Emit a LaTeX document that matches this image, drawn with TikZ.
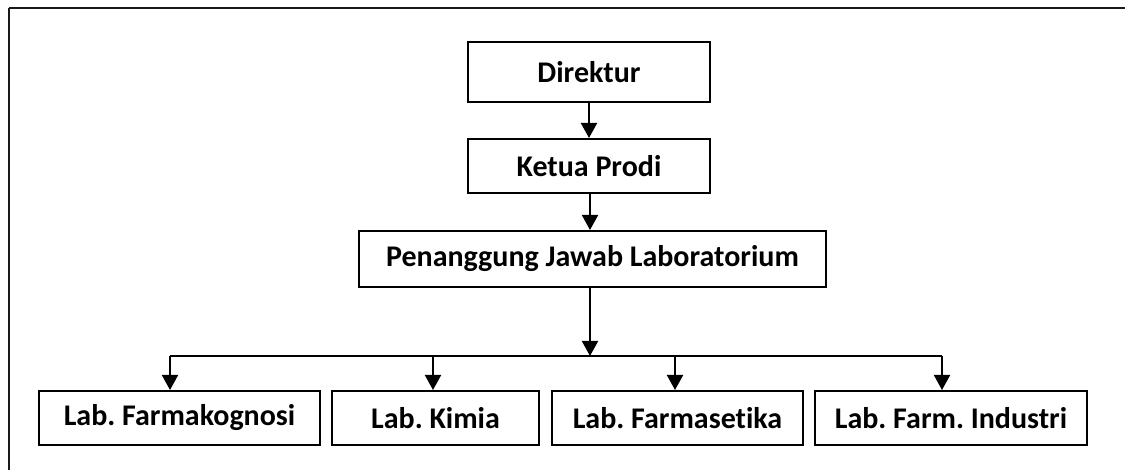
\documentclass[tikz,border=0pt]{standalone}
\usepackage{fontspec}
\setmainfont[Ligatures=NoCommon]{Carlito}
\frenchspacing
\usetikzlibrary{arrows.meta}
\begin{document}
\begin{tikzpicture}[x=1pt,y=-1pt,
  box/.style={draw=black,line width=2pt,inner sep=0pt,minimum height=54pt,
    font=\fontsize{30}{36}\selectfont\bfseries},
  arr/.style={line width=2pt,-{Triangle[length=15pt,width=16pt]}},
  conn/.style={line width=2pt}]
\useasboundingbox (0,0) rectangle (1125,470);
\draw[line width=2pt,black!90] (9,8) -- (1130,8);
\draw[line width=2pt,black!90] (9,8) -- (9,475);
\node[box,minimum width=242pt,minimum height=60pt] (dir) at (589,72) {Direktur};
\node[box,minimum width=242pt] (ketua) at (589,166) {Ketua Prodi};
\node[box,minimum width=467pt,minimum height=56pt] (pj) at (592.5,259) {Penanggung Jawab Laboratorium};
\node[box,minimum width=281pt] (lab1) at (179.5,418) {Lab. Farmakognosi};
\node[box,minimum width=207pt] (lab2) at (435.5,418) {Lab. Kimia};
\node[box,minimum width=251pt] (lab3) at (677.5,418) {Lab. Farmasetika};
\node[box,minimum width=272pt] (lab4) at (951,418) {Lab. Farm. Industri};
\coordinate (bus) at (590,356);
\coordinate (b1) at (170,356);
\coordinate (b2) at (433,356);
\coordinate (b3) at (675,356);
\coordinate (b4) at (942,356);
\draw[arr] (dir) -- (ketua);
\draw[arr] (ketua.south -| bus) -- (pj.north -| bus);
\draw[arr] (pj.south -| bus) -- (bus);
\draw[conn] (b1) -- (b4);
\draw[arr] (b1) -- (b1 |- lab1.north);
\draw[arr] (b2) -- (b2 |- lab2.north);
\draw[arr] (b3) -- (b3 |- lab3.north);
\draw[arr] (b4) -- (b4 |- lab4.north);
\end{tikzpicture}
\end{document}
